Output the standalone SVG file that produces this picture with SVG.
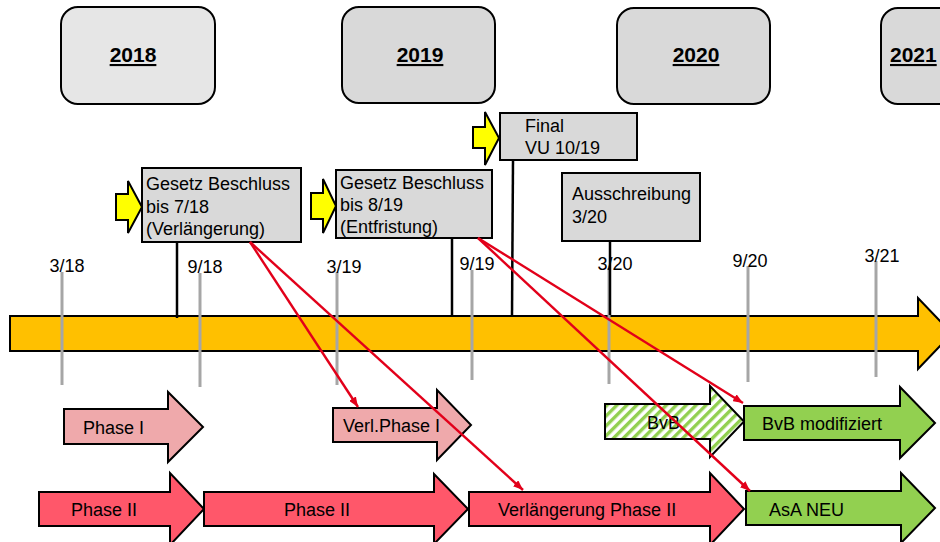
<svg xmlns="http://www.w3.org/2000/svg" width="940" height="542" viewBox="0 0 940 542">
<style>
text{font-family:"Liberation Sans",Arial,sans-serif;font-size:18px;fill:#000}
.year{font-size:21px;font-weight:bold;text-decoration:underline;text-anchor:middle}
.ybox{fill:#d9d9d9;stroke:#000;stroke-width:2}
.ebox{fill:#d9d9d9;stroke:#000;stroke-width:2}
.yarrow{fill:#ffff00;stroke:#000;stroke-width:2}
.tick{stroke:#a6a6a6;stroke-width:3}
.tl{text-anchor:middle}
.conn{stroke:#000;stroke-width:2.5}
.pink{fill:#efa9ab;stroke:#000;stroke-width:2}
.red{fill:#ff576a;stroke:#000;stroke-width:2}
.green{fill:#92d050;stroke:#000;stroke-width:2}
.rl{stroke:#e2001a;stroke-width:2.4;fill:none;marker-end:url(#ah)}
</style>
<defs>
<pattern id="hatch" patternUnits="userSpaceOnUse" width="7" height="7" patternTransform="rotate(45)">
<rect width="7" height="7" fill="#fff"/>
<rect width="3.4" height="7" fill="#92d050"/>
</pattern>
<marker id="ah" markerUnits="userSpaceOnUse" markerWidth="10" markerHeight="8" refX="10" refY="4" orient="auto">
<path d="M0,0 L10,4 L0,8 Z" fill="#e2001a"/>
</marker>
</defs>

<g id="year-2018"><rect class="ybox" x="61" y="7" width="154" height="97" rx="17" style="fill:#e6e6e6"/><text class="year" x="133" y="62">2018</text></g>
<g id="year-2019"><rect class="ybox" x="342" y="7" width="153" height="96" rx="17"/><text class="year" x="420" y="62">2019</text></g>
<g id="year-2020"><rect class="ybox" x="617" y="8" width="153" height="96" rx="17"/><text class="year" x="696" y="62">2020</text></g>
<g id="year-2021"><rect class="ybox" x="881" y="8" width="100" height="96" rx="17"/><text class="year" x="890" y="62" style="text-anchor:start">2021</text></g>

<g id="timeline"><path d="M10,316 H918 V298 L952,333.5 L918,369 V351 H10 Z" fill="#ffc000" stroke="#000" stroke-width="2"/></g>

<g id="ticks">
<line class="tick" x1="62" y1="272" x2="62" y2="385"/><text class="tl" x="67" y="272">3/18</text>
<line class="tick" x1="200" y1="273" x2="200" y2="387"/><text class="tl" x="205" y="273">9/18</text>
<line class="tick" x1="337" y1="272" x2="337" y2="385"/><text class="tl" x="344" y="273">3/19</text>
<line class="tick" x1="472" y1="270" x2="472" y2="380"/><text class="tl" x="477" y="270">9/19</text>
<line class="tick" x1="609" y1="268" x2="609" y2="384"/><text class="tl" x="615" y="270">3/20</text>
<line class="tick" x1="748" y1="266" x2="748" y2="382"/><text class="tl" x="750" y="267">9/20</text>
<line class="tick" x1="876" y1="261" x2="876" y2="377"/><text class="tl" x="882" y="262">3/21</text>
</g>

<g id="event-connectors">
<line class="conn" x1="177" y1="242" x2="177" y2="318"/>
<line class="conn" x1="452" y1="238" x2="452" y2="315"/>
<line class="conn" x1="513" y1="160" x2="512" y2="315"/>
<line class="conn" x1="610" y1="241" x2="610" y2="315"/>
</g>

<g id="event-gesetz-2018">
<path class="yarrow" d="M116,194 H128 V181 L142,207 L128,233 V220 H116 Z"/>
<rect class="ebox" x="142" y="168" width="159" height="74"/>
<text x="146" y="190">Gesetz Beschluss</text><text x="146" y="212.5">bis 7/18</text><text x="146" y="235">(Verlängerung)</text>
</g>
<g id="event-gesetz-2019">
<path class="yarrow" d="M311,193 H323 V179 L336,206 L323,233 V219 H311 Z"/>
<rect class="ebox" x="336" y="170" width="156" height="68"/>
<text x="340" y="189">Gesetz Beschluss</text><text x="340" y="211">bis 8/19</text><text x="340" y="233">(Entfristung)</text>
</g>
<g id="event-final">
<path class="yarrow" d="M473,127 H485 V112 L499,138 L485,165 V148 H473 Z"/>
<rect class="ebox" x="500" y="113" width="137" height="47"/>
<text x="525" y="132">Final</text><text x="525" y="154">VU 10/19</text>
</g>
<g id="event-ausschreibung">
<rect class="ebox" x="562" y="173" width="138" height="68"/>
<text x="572" y="200">Ausschreibung</text><text x="572" y="223">3/20</text>
</g>

<g id="phase-1"><path class="pink" d="M64,409 H168 V392 L203,427 L168,462 V444 H64 Z"/><text x="83" y="434">Phase I</text></g>
<g id="verl-phase-1"><path class="pink" d="M333,408 H437 V390 L471,425 L437,460 V442 H333 Z"/><text x="343" y="432">Verl.Phase I</text></g>
<g id="bvb"><path d="M605,404 H710 V386 L744,421.5 L710,457 V439 H605 Z" fill="url(#hatch)" stroke="#000" stroke-width="2"/><text x="647" y="429">BvB</text></g>
<g id="bvb-modifiziert"><path class="green" d="M744,406 H900 V387 L935,423 L900,458 V440 H744 Z"/><text x="762" y="430">BvB modifiziert</text></g>
<g id="phase-2a"><path class="red" d="M39,492 H170 V473 L204,509 L170,545 V526 H39 Z"/><text x="71" y="516">Phase II</text></g>
<g id="phase-2b"><path class="red" d="M204,492 H434 V474 L468,509 L434,544 V526 H204 Z"/><text x="284" y="516">Phase II</text></g>
<g id="verl-phase-2"><path class="red" d="M469,492 H710 V473 L744,509 L710,545 V526 H469 Z"/><text x="498" y="516">Verlängerung Phase II</text></g>
<g id="asa-neu"><path class="green" d="M746,491 H901 V473 L935,508 L901,543 V525 H746 Z"/><text x="769" y="516">AsA NEU</text></g>

<g id="connectors">
<line class="rl" x1="250" y1="242" x2="358" y2="407"/>
<line class="rl" x1="250" y1="242" x2="523" y2="490"/>
<line class="rl" x1="478" y1="238" x2="743" y2="403"/>
<line class="rl" x1="478" y1="238" x2="750" y2="491"/>
</g>
</svg>
